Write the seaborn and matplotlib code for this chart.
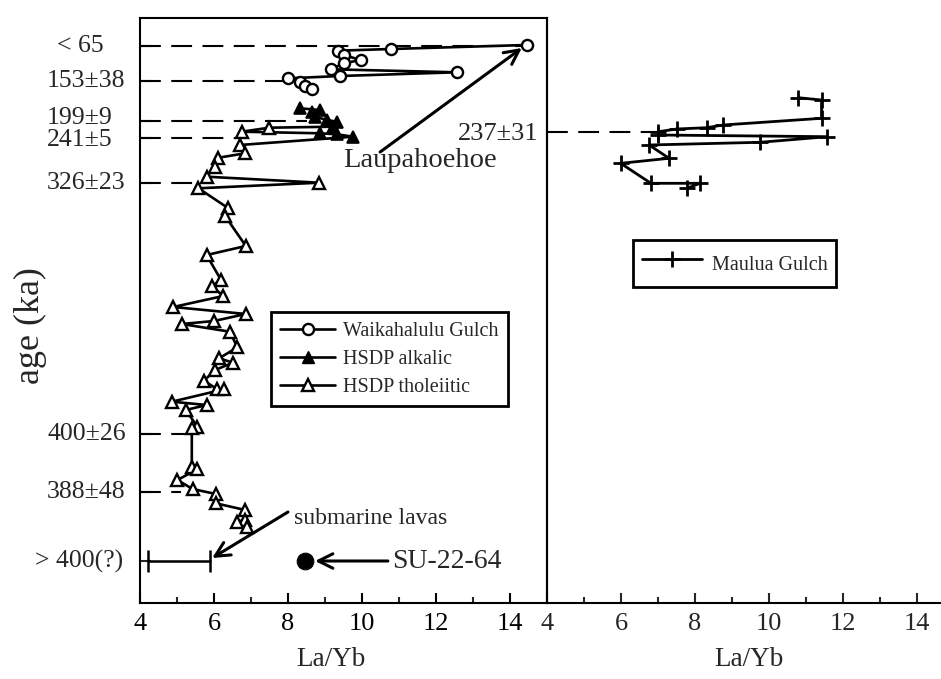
import matplotlib
matplotlib.use("Agg")
import matplotlib.pyplot as plt
from matplotlib.lines import Line2D
from matplotlib.transforms import blended_transform_factory
import numpy as np
import pandas as pd
import seaborn as sns

# ---------------------------------------------------------------------------
# Data: La/Yb against stratigraphic position (0 = top of section)
# ---------------------------------------------------------------------------
waik_layb = [14.45, 10.78, 9.34, 9.51, 9.96, 9.51, 9.16, 12.56, 9.41, 8.01, 8.32, 8.46, 8.64]
waik_pos = [27, 31, 32.7, 37, 42, 45.3, 51.3, 54.3, 58, 60.3, 64.3, 68, 71.3]

alk_layb = [8.32, 8.86, 8.64, 8.73, 9.05, 9.32, 9.22, 8.86, 9.32, 9.76]
alk_pos = [90.3, 92, 94.3, 98.7, 102, 103.7, 108.7, 115.3, 116.3, 118.7]

thol_layb = [7.49, 6.75, 6.70, 6.84, 6.12, 6.03, 5.80, 8.84, 5.58, 6.39,
             6.30, 6.86, 5.80, 6.19, 5.94, 6.25, 4.90, 6.86, 6.00, 5.13,
             6.43, 6.63, 6.14, 6.51, 6.03, 5.73, 6.09, 6.27, 4.86, 5.80,
             5.24, 5.55, 5.40, 5.40, 5.55, 5.01, 5.42, 6.05, 6.05, 6.84,
             6.61, 6.84, 6.90]
thol_pos = [109.7, 113.7, 127, 135.3, 139.7, 148.7, 158.7, 164.7, 170.3, 190.3,
            198, 228, 237, 262, 268, 278, 289, 296, 303, 306,
            313.7, 329.3, 340.3, 344.7, 352, 362.7, 371.3, 371.3, 383.7, 387,
            392, 408.7, 410.3, 448.7, 451.3, 462, 471, 476, 485.3, 492,
            503.7, 502, 509.3]

maulua_layb = [10.79, 11.42, 11.42, 8.76, 8.32, 7.51, 7.01, 7.01, 11.58, 9.76,
               6.76, 7.30, 5.99, 6.81, 8.14, 7.78]
maulua_pos = [79.7, 82, 100.3, 107, 109.7, 111, 113.7, 117, 118.7, 124.3,
              127, 140.3, 145.3, 165.3, 165.3, 170.3]

# submarine lavas: range of La/Yb; SU-22-64 single sample
submarine_range = [4.22, 5.89]
su_layb = 8.45
bottom_pos = 543

# age tie points (left panel)
age_pos = [28, 63, 103, 120, 165, 416, 474, 543]
age_labels = ["< 65", "153\u00b138", "199\u00b19", "241\u00b15", "326\u00b123",
              "400\u00b126", "388\u00b148", "> 400(?)"]
dated_layb = [14.45, 8.01, 8.50, 6.75, 5.58, 5.35, 5.10]  # dashed leader ends
# age tie point (right panel)
maulua_age_pos = [113.7]
maulua_age_labels = ["237\u00b131"]
maulua_dated_layb = [7.01]

# ---------------------------------------------------------------------------
sns.set_theme(style="white")
plt.rcParams["font.family"] = ["Liberation Serif", "DejaVu Serif"]
plt.rcParams["axes.edgecolor"] = "black"
plt.rcParams["axes.linewidth"] = 1.5

W, H = 941, 679
fig = plt.figure(figsize=(W / 100, H / 100), dpi=100)
ax1 = fig.add_axes([140 / W, 1 - 603 / H, 407 / W, 585 / H])
ax2 = fig.add_axes([547 / W, 1 - 603 / H, 394 / W, 585 / H])

dash = (0, (10, 5))
black = "black"

# --- left panel ------------------------------------------------------------
ax1.hlines(age_pos[:-1], 4, dated_layb, colors=black, linestyles=dash, lw=1.5, zorder=1)

waik = pd.DataFrame({"la_yb": waik_layb, "pos": waik_pos})
sns.lineplot(data=waik, x="la_yb", y="pos", sort=False, estimator=None, ax=ax1,
             color=black, lw=1.9, marker="o", markersize=8,
             markerfacecolor="white", markeredgecolor=black, markeredgewidth=1.7,
             zorder=3)

hsdp = pd.concat([
    pd.DataFrame({"la_yb": alk_layb, "pos": alk_pos, "type": "alkalic"}),
    pd.DataFrame({"la_yb": thol_layb, "pos": thol_pos, "type": "tholeiitic"}),
]).sort_values("pos", kind="stable")
sns.lineplot(data=hsdp, x="la_yb", y="pos", sort=False, estimator=None, ax=ax1,
             color=black, lw=1.9, zorder=2)
thol = hsdp[hsdp["type"] == "tholeiitic"]
alk = hsdp[hsdp["type"] == "alkalic"]
sns.lineplot(data=thol, x="la_yb", y="pos", sort=False, estimator=None, ax=ax1,
             color=black, linestyle="none", marker="^", markersize=8.5,
             markerfacecolor="white", markeredgecolor=black, markeredgewidth=1.7,
             zorder=3)
sns.lineplot(data=alk, x="la_yb", y="pos", sort=False, estimator=None, ax=ax1,
             color=black, linestyle="none", marker="^", markersize=8.5,
             markerfacecolor=black, markeredgecolor=black, markeredgewidth=1.2,
             zorder=4)

# submarine lavas range bar and SU-22-64
sns.lineplot(x=submarine_range, y=[bottom_pos] * 2, sort=False, estimator=None, ax=ax1,
             color=black, lw=1.8, marker="|", markersize=16, markeredgewidth=1.8,
             markeredgecolor=black)
sns.lineplot(x=[su_layb], y=[bottom_pos], ax=ax1, estimator=None, color=black,
             linestyle="none", marker="o", markersize=12,
             markerfacecolor=black, markeredgecolor=black)

arrow = dict(arrowstyle="->", color=black, lw=2.2, mutation_scale=26, shrinkA=0, shrinkB=0)
ax1.annotate("", xy=(14.32, 30), xytext=(10.49, 134), arrowprops=arrow)
ax1.text(9.49, 143, "Laupahoehoe", fontsize=20.5, ha="left", va="center")
ax1.annotate("", xy=(5.95, 540), xytext=(8.0, 494), arrowprops=arrow)
ax1.text(8.15, 500, "submarine lavas", fontsize=17, ha="left", va="center")
ax1.annotate("", xy=(8.73, bottom_pos), xytext=(10.7, bottom_pos), arrowprops=arrow)
ax1.text(10.81, bottom_pos, "SU-22-64", fontsize=20, ha="left", va="center")

ax1.set_xlim(4, 15)
ax1.set_ylim(585, 0)
ax1.set_xticks(np.arange(4, 15, 2))
ax1.set_xticks(np.arange(5, 15, 2), minor=True)
ax1.set_yticks(age_pos)
ax1.set_yticklabels([])
ax1.tick_params(axis="x", which="major", direction="in", length=7, width=1.5,
                labelsize=19, pad=7, colors=black, bottom=True)
ax1.tick_params(axis="x", which="minor", direction="in", length=4, width=1.5, bottom=True)
ax1.tick_params(axis="y", which="major", direction="in", length=8, width=1.5, left=True)
ax1.set_xlabel("La/Yb", fontsize=19.5, labelpad=8)
ax1.xaxis.set_label_coords((331 - 140) / 407, -(660 - 603) / 585)
ax1.xaxis.label.set_va("center")
ax1.set_ylabel("age (ka)", fontsize=26, va="center")
ax1.yaxis.set_label_coords((30 - 140) / 407, (603 - 326) / 585)

# age labels: left edges and vertical placement of each label
label_left_px = [57, 47, 47, 47, 47, 47, 47, 35]
label_pos = [28, 63, 100.5, 122, 165, 416, 474, 543]
tr = blended_transform_factory(fig.transFigure, ax1.transData)
for p, lab, lx in zip(label_pos, age_labels, label_left_px):
    ax1.text(lx / W, p, lab, transform=tr, fontsize=18.5, ha="left", va="center",
             clip_on=False)

handles = [
    Line2D([], [], color=black, lw=1.9, marker="o", markersize=8,
           markerfacecolor="white", markeredgecolor=black, markeredgewidth=1.7),
    Line2D([], [], color=black, lw=1.9, marker="^", markersize=8,
           markerfacecolor=black, markeredgecolor=black),
    Line2D([], [], color=black, lw=1.9, marker="^", markersize=8,
           markerfacecolor="white", markeredgecolor=black, markeredgewidth=1.7),
]
leg1 = ax1.legend(handles, ["Waikahalulu Gulch", "HSDP alkalic", "HSDP tholeiitic"],
                  loc="upper left", bbox_to_anchor=((271 - 140) / 407, (603 - 312) / 585),
                  borderaxespad=0, fontsize=14.5, handlelength=2.7, handletextpad=0.4,
                  labelspacing=0.45, borderpad=0.47,
                  fancybox=False, framealpha=1, edgecolor=black)
leg1.get_frame().set_linewidth(2)

# --- right panel -----------------------------------------------------------
ax2.hlines(maulua_age_pos, 4, maulua_dated_layb, colors=black, linestyles=dash, lw=1.5, zorder=1)
maulua = pd.DataFrame({"la_yb": maulua_layb, "pos": maulua_pos})
sns.lineplot(data=maulua, x="la_yb", y="pos", sort=False, estimator=None, ax=ax2,
             color=black, lw=2, marker="+", markersize=12,
             markeredgecolor=black, markeredgewidth=2, zorder=3)
ax2.set_xlim(4, 4 + 394 / 37)
ax2.set_ylim(585, 0)
ax2.set_xticks(np.arange(4, 15, 2))
ax2.set_xticks(np.arange(5, 15, 2), minor=True)
ax2.set_yticks(maulua_age_pos)
ax2.set_yticklabels(maulua_age_labels)
ax2.tick_params(axis="x", which="major", direction="in", length=7, width=1.5,
                labelsize=19, pad=7, bottom=True)
ax2.tick_params(axis="x", which="minor", direction="in", length=4, width=1.5, bottom=True)
ax2.tick_params(axis="y", length=0, labelsize=19, pad=6.5, left=True)
ax2.spines["top"].set_visible(False)
ax2.spines["right"].set_visible(False)
ax2.set_xlabel("La/Yb", fontsize=19.5)
ax2.xaxis.set_label_coords((749 - 547) / 394, -(660 - 603) / 585)
ax2.xaxis.label.set_va("center")
ax2.set_ylabel("")
ax2.patch.set_alpha(0)

leg2 = ax2.legend([Line2D([], [], color=black, lw=2, marker="+", markersize=12,
                          markeredgewidth=2)], ["Maulua Gulch"],
                  loc="upper left", bbox_to_anchor=((633 - 547) / 394, (603 - 240) / 585),
                  borderaxespad=0, fontsize=14.5, handlelength=3.0, handleheight=1.8,
                  handletextpad=0.45, borderpad=0.45,
                  fancybox=False, framealpha=1, edgecolor=black)
leg2.get_frame().set_linewidth(2)

fig.savefig("out.png", dpi=100, facecolor="white")
